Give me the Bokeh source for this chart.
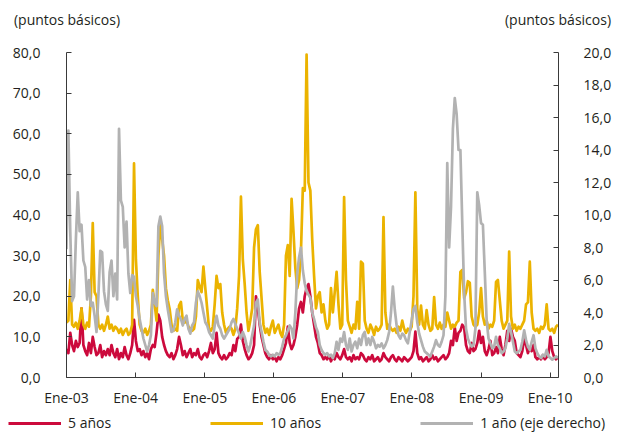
import pandas as pd
from bokeh.plotting import figure
from bokeh.models import Range1d, LinearAxis, FixedTicker, Legend, LegendItem
from bokeh.embed import file_html
from bokeh.resources import INLINE

# ---------------- data ----------------
start_date = "2003-01-01"
end_date = "2010-02-11"

# 5 años (left axis, basis points)
y5 = [7.0, 6.0, 11.0, 8.0, 6.5, 9.0, 7.5, 8.5, 17.0, 8.0,
      6.5, 5.5, 8.5, 6.0, 10.0, 7.5, 5.5, 6.0, 8.0, 5.0,
      6.5, 5.5, 7.0, 5.5, 8.0, 6.0, 5.0, 7.0, 4.5, 6.0,
      5.0, 7.5, 5.5, 4.5, 6.0, 8.0, 14.2, 9.0, 6.5, 7.0,
      5.5, 6.5, 5.0, 6.0, 4.5, 7.0, 8.0, 7.5, 11.0, 15.5,
      14.0, 10.0, 8.0, 6.5, 5.5, 5.0, 6.0, 4.5, 5.5, 7.0,
      10.0, 8.0, 5.5, 6.5, 5.0, 6.0, 7.0, 5.0, 6.0, 5.5,
      7.0, 5.0, 4.5, 5.5, 6.0, 5.0, 6.5, 8.5, 6.0, 7.0,
      11.0, 6.0, 5.0, 4.5, 5.5, 4.5, 5.0, 6.0, 5.5, 8.0,
      6.5, 9.5, 10.0, 13.0, 9.0, 7.0, 5.5, 4.5, 5.0, 6.0,
      8.0, 20.0, 17.0, 13.0, 10.0, 8.0, 6.0, 5.0, 4.5, 5.5,
      4.5, 5.0, 4.0, 5.0, 4.5, 5.5, 7.0, 8.5, 12.5, 8.5,
      7.0, 8.0, 10.0, 13.0, 17.0, 18.6, 16.0, 20.0, 22.0, 23.0,
      20.0, 16.0, 13.0, 10.0, 8.5, 6.0, 5.5, 4.5, 5.0, 4.5,
      5.5, 4.0, 5.0, 4.5, 6.0, 5.0, 4.5, 5.5, 7.0, 5.0,
      4.5, 5.0, 4.0, 5.5, 4.5, 5.0, 4.5, 6.0, 5.5, 4.5,
      4.0, 5.0, 4.5, 5.5, 4.0, 4.5, 5.0, 4.0, 4.5, 6.0,
      5.0, 4.5, 4.0, 5.0, 5.5, 4.5, 4.0, 5.0, 4.5, 4.0,
      5.0, 4.5, 4.0, 4.5, 5.0, 6.5, 11.3, 6.0, 4.5, 5.0,
      4.0, 4.5, 5.0, 4.0, 4.5, 5.5, 4.5, 5.0, 4.0, 4.5,
      5.0, 5.5, 4.5, 5.0, 6.0, 9.0, 8.0, 12.3, 9.0, 11.0,
      11.5, 13.0, 12.3, 8.0, 6.5, 6.0, 8.5, 6.5, 7.0, 8.5,
      11.5, 8.5, 10.0, 6.5, 5.5, 7.0, 9.0, 5.5, 6.0, 7.5,
      6.0, 10.0, 7.0, 5.5, 8.0, 11.5, 9.0, 12.0, 10.0, 9.0,
      6.0, 5.5, 5.0, 6.5, 9.5, 8.0, 6.0, 7.5, 6.5, 8.0,
      5.0, 4.5, 5.0, 4.5, 5.5, 4.5, 5.0, 6.0, 10.0, 6.5,
      5.0, 4.5, 5.0]

# 10 años (left axis, basis points)
y10 = [13.5, 14.0, 24.0, 13.0, 12.5, 13.5, 12.0, 14.0, 17.0, 13.0,
       12.0, 13.5, 12.5, 20.0, 38.0, 21.0, 20.0, 13.0, 12.0, 13.0,
       11.5, 13.0, 15.0, 12.0, 13.0, 11.5, 12.5, 12.0, 11.0, 12.0,
       10.5, 11.5, 12.0, 10.5, 11.0, 13.0, 52.7, 29.0, 20.0, 13.0,
       11.5, 11.0, 12.0, 10.5, 11.5, 13.0, 21.6, 18.0, 14.0, 30.0,
       38.0, 34.0, 30.0, 22.0, 19.0, 16.8, 13.0, 11.5, 12.0, 11.5,
       17.7, 18.6, 14.0, 13.5, 14.0, 12.5, 12.0, 11.5, 12.0, 15.0,
       24.0, 22.4, 21.0, 27.3, 22.0, 17.0, 12.0, 11.5, 12.5, 18.0,
       25.0, 22.0, 23.0, 16.0, 13.0, 11.0, 12.0, 12.5, 12.0, 10.5,
       12.0, 17.0, 25.0, 44.5, 29.0, 23.0, 16.0, 11.5, 14.0, 17.0,
       32.0, 36.5, 37.5, 26.0, 19.5, 13.0, 11.0, 12.0, 10.5, 12.5,
       14.0, 11.0, 12.0, 13.0, 11.0, 10.0, 13.0, 30.0, 32.6, 25.0,
       44.0, 36.0, 27.0, 22.0, 24.0, 31.0, 46.6, 46.0, 79.5, 48.0,
       46.0, 34.0, 25.0, 17.0, 20.0, 21.0, 16.0, 18.0, 14.0, 12.0,
       13.0, 22.0, 16.0, 21.0, 26.0, 18.0, 12.0, 13.0, 44.4, 24.0,
       14.0, 12.5, 11.0, 13.0, 12.0, 18.6, 12.0, 28.5, 28.0, 14.0,
       12.0, 11.0, 13.0, 12.0, 10.5, 12.5, 11.5, 12.0, 13.0, 39.5,
       16.0, 12.0, 13.0, 12.0, 11.5, 12.0, 11.0, 12.5, 11.5, 14.0,
       12.0, 11.0, 12.0, 11.5, 12.5, 20.0, 45.6, 17.0, 13.0, 17.7,
       13.0, 12.0, 16.6, 13.0, 11.5, 12.0, 19.8, 13.0, 12.0, 13.5,
       12.0, 13.0, 12.5, 16.0, 14.0, 12.0, 13.0, 12.5, 13.5, 14.0,
       26.0, 26.5, 19.5, 21.0, 23.7, 23.3, 15.0, 13.0, 12.5, 13.0,
       16.0, 22.0, 15.0, 13.0, 14.0, 12.0, 13.0, 12.5, 14.0, 23.5,
       24.0, 19.0, 14.0, 12.0, 13.0, 14.0, 31.0, 15.0, 12.0, 13.0,
       11.5, 12.5, 12.0, 13.0, 14.0, 18.0, 18.5, 28.5, 16.0, 12.0,
       11.5, 12.0, 11.0, 12.5, 12.0, 13.0, 18.0, 12.0, 11.5, 12.0,
       11.0, 12.5, 13.0]

# 1 año (right axis, basis points)
y1 = [7.9, 15.2, 9.0, 4.7, 5.0, 8.5, 11.4, 9.0, 9.4, 7.2,
      6.8, 4.8, 6.0, 4.4, 4.6, 3.8, 2.8, 5.0, 7.8, 7.7,
      5.3, 4.5, 4.1, 6.5, 7.2, 5.0, 6.4, 4.8, 15.3, 10.9,
      10.5, 8.0, 9.6, 6.4, 5.2, 6.3, 6.2, 5.0, 4.4, 3.6,
      3.0, 2.4, 2.0, 1.6, 2.0, 2.6, 5.2, 4.6, 4.4, 9.3,
      9.9, 9.3, 6.4, 5.0, 4.2, 3.5, 2.8, 2.9, 3.4, 4.2,
      3.8, 3.6, 3.2, 3.6, 3.8, 3.0, 2.7, 3.2, 3.4, 4.6,
      5.3, 5.0, 4.6, 4.0, 3.4, 3.2, 2.8, 2.6, 2.4, 3.2,
      3.8, 3.2, 3.0, 2.6, 2.4, 2.6, 2.8, 3.0, 3.4, 3.6,
      3.3, 3.0, 2.7, 2.4, 2.8, 2.5, 2.0, 1.6, 2.0, 2.6,
      3.2, 4.6, 4.8, 3.4, 2.8, 2.2, 1.7, 1.6, 1.4, 1.3,
      1.4, 1.3, 1.5, 1.4, 1.5, 1.9, 2.4, 2.6, 2.9, 3.2,
      3.0, 2.4, 4.0, 6.4, 7.4, 8.0, 6.6, 5.8, 5.3, 5.1,
      4.9, 4.0, 3.6, 3.1, 2.8, 2.0, 1.7, 1.5, 1.4, 1.5,
      1.3, 1.4, 1.2, 1.5, 2.2, 1.7, 2.4, 2.2, 2.8, 2.0,
      1.7, 2.4, 1.6, 2.0, 2.2, 1.8, 2.4, 2.0, 2.6, 2.8,
      2.0, 2.4, 2.0, 2.5, 2.2, 1.8, 2.0, 1.9, 2.1, 1.8,
      2.0, 2.3, 2.8, 4.0, 5.6, 4.2, 3.2, 2.6, 2.4, 2.7,
      2.6, 2.3, 2.1, 2.8, 3.5, 4.2, 4.4, 3.4, 2.7, 2.3,
      1.9, 1.6, 1.5, 1.4, 1.3, 1.6, 1.9, 2.3, 2.0, 1.9,
      2.2, 2.6, 5.0, 13.2, 8.0, 10.5, 15.3, 17.2, 16.2, 14.0,
      14.0, 9.5, 5.2, 3.0, 2.4, 2.1, 1.9, 2.0, 3.0, 11.4,
      10.6, 9.5, 9.4, 6.5, 3.5, 2.4, 2.1, 1.8, 1.9, 2.5,
      2.0, 1.8, 1.5, 1.6, 1.8, 2.4, 3.3, 2.8, 2.2, 1.6,
      1.5, 1.6, 1.7, 2.2, 2.9, 2.3, 1.9, 1.7, 2.2, 2.6,
      1.8, 1.5, 1.3, 1.2, 1.4, 1.3, 1.7, 1.3, 1.2, 1.1,
      1.2, 1.3, 1.2]

series_names = ["5 años", "10 años", "1 año (eje derecho)"]
left_ticks = [0, 10, 20, 30, 40, 50, 60, 70, 80]
left_labels = ["0,0", "10,0", "20,0", "30,0", "40,0", "50,0", "60,0", "70,0", "80,0"]
right_ticks = [0, 2, 4, 6, 8, 10, 12, 14, 16, 18, 20]
right_labels = ["0,0", "2,0", "4,0", "6,0", "8,0", "10,0", "12,0", "14,0", "16,0", "18,0", "20,0"]
x_tick_dates = ["2003-01-01", "2004-01-01", "2005-01-01", "2006-01-01",
                "2007-01-01", "2008-01-01", "2009-01-01", "2010-01-01"]
x_tick_labels = ["Ene-03", "Ene-04", "Ene-05", "Ene-06", "Ene-07", "Ene-08", "Ene-09", "Ene-10"]
unit_label = "(puntos básicos)"

dates = pd.date_range(start_date, end_date, periods=len(y5))

# ---------------- styling ----------------
FONT = "Open Sans"
FS = "14px"
TXT = "#231f20"
AX = "#3a3a3a"
C5 = "#cc0a3c"
C10 = "#ebb300"
C1 = "#b2b2b2"
LW = 2.7

W = 618
H_MAIN = 409
H_LEG = 23

p = figure(width=W, height=H_MAIN, x_axis_type="datetime",
           output_backend="svg", toolbar_location=None, title=None,
           x_range=Range1d(pd.Timestamp("2003-01-01"), pd.Timestamp("2010-02-14")),
           y_range=Range1d(0, 80),
           min_border_left=66, min_border_right=60, min_border_top=52, min_border_bottom=31)
p.extra_y_ranges = {"right": Range1d(0, 20)}
p.extra_x_ranges = {"units": Range1d(0, 1000)}
p.outline_line_color = None
p.xgrid.visible = False
p.ygrid.visible = False
p.background_fill_color = "white"
p.border_fill_color = "white"

p.line(dates, y5, line_color=C5, line_width=LW, line_join="round")
p.line(dates, y10, line_color=C10, line_width=LW, line_join="round")
p.line(dates, y1, line_color=C1, line_width=LW, line_join="round", y_range_name="right")

raxis = LinearAxis(y_range_name="right")
p.add_layout(raxis, "right")

xax = p.xaxis[0]
lax = p.yaxis[0]

xax.ticker = FixedTicker(ticks=[int(pd.Timestamp(d).value // 10**6) for d in x_tick_dates])
xax.major_label_overrides = {int(pd.Timestamp(d).value // 10**6): l for d, l in zip(x_tick_dates, x_tick_labels)}
lax.ticker = FixedTicker(ticks=left_ticks)
lax.major_label_overrides = dict(zip(left_ticks, left_labels))
raxis.ticker = FixedTicker(ticks=right_ticks)
raxis.major_label_overrides = dict(zip(right_ticks, right_labels))

for ax in (xax, lax, raxis):
    ax.axis_line_color = AX
    ax.axis_line_width = 1
    ax.major_tick_line_color = AX
    ax.major_tick_in = 5
    ax.major_tick_out = 0
    ax.minor_tick_line_color = None
    ax.major_label_text_font = FONT
    ax.major_label_text_font_size = FS
    ax.major_label_text_color = TXT

lax.major_label_standoff = 26
raxis.major_label_standoff = 25
xax.major_label_standoff = 10

# unit captions above both value axes (an invisible top axis carries them)
unit_ticks = [1, 999]
uax = LinearAxis(x_range_name="units", ticker=FixedTicker(ticks=unit_ticks),
                 major_label_overrides={t: unit_label for t in unit_ticks},
                 axis_line_color=None, major_tick_line_color=None, minor_tick_line_color=None,
                 major_tick_in=0, major_tick_out=0, major_label_standoff=24,
                 major_label_text_font=FONT, major_label_text_font_size=FS,
                 major_label_text_color=TXT)
p.add_layout(uax, "above")

# legend strip under the chart (separate root so its frame spans the full width;
# its proxy lines use the same series but lie outside this strip's ranges)
q = figure(width=W, height=H_LEG, output_backend="svg", toolbar_location=None, title=None,
           x_range=Range1d(0, 1), y_range=Range1d(-2, -1),
           x_axis_location=None, y_axis_location=None, min_border=0)
q.outline_line_color = None
q.grid.visible = False
q.background_fill_color = "white"
q.border_fill_color = "white"
k5 = q.line(dates, y5, line_color=C5, line_width=3)
k10 = q.line(dates, y10, line_color=C10, line_width=3)
k1 = q.line(dates, y1, line_color=C1, line_width=3)

legend = Legend(items=[LegendItem(label=series_names[0], renderers=[k5]),
                       LegendItem(label=series_names[1], renderers=[k10]),
                       LegendItem(label=series_names[2], renderers=[k1])],
                location=(8, 0), orientation="horizontal",
                glyph_width=53, glyph_height=16, label_height=16, label_width=10,
                label_standoff=7, padding=0, margin=0, spacing=99,
                border_line_color=None, background_fill_alpha=0,
                label_text_font=FONT, label_text_font_size=FS, label_text_color=TXT)
q.add_layout(legend)

open("out.html", "w").write(file_html([p, q], INLINE))
